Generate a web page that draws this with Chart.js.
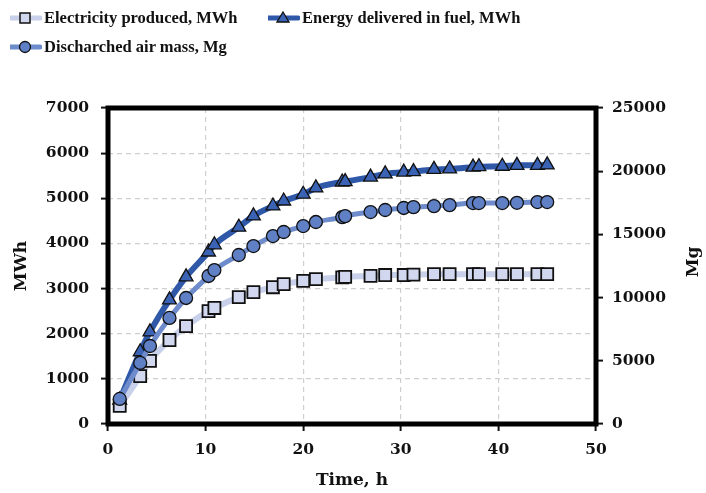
<!DOCTYPE html>
<html>
<head>
<meta charset="utf-8">
<script src="https://cdn.jsdelivr.net/npm/chart.js@4.4.1/dist/chart.umd.min.js"></script>
<style>
  body { margin: 0; background: #fff; }
  #wrap { position: relative; width: 706px; height: 493px; }
  #chart { position: absolute; left: 0; top: 0; }
  .leg { position: absolute; display: flex; align-items: center; height: 24px;
         font: bold 16.5px "Liberation Serif", serif; color: #111; white-space: nowrap; }
  .leg svg { margin-right: 2px; }
</style>
</head>
<body>
<div id="wrap">
  <canvas id="chart" width="706" height="493"></canvas>
  <div class="leg" style="left:10px; top:6px;">
    <svg width="32" height="24"><line x1="0" y1="12" x2="30" y2="12" stroke="#c8d0ea" stroke-width="5" stroke-linecap="round"/><rect x="10" y="7" width="10" height="10" fill="#d0d7ee" stroke="#111" stroke-width="1.5"/></svg>Electricity produced, MWh
  </div>
  <div class="leg" style="left:268px; top:6px;">
    <svg width="32" height="24"><line x1="0" y1="12" x2="30" y2="12" stroke="#2f58a8" stroke-width="5" stroke-linecap="round"/><polygon points="15,6 21,16 9,16" fill="#3b63b5" stroke="#111" stroke-width="1.3"/></svg>Energy delivered in fuel, MWh
  </div>
  <div class="leg" style="left:10px; top:35px;">
    <svg width="32" height="24"><line x1="0" y1="12" x2="30" y2="12" stroke="#6e8bcc" stroke-width="5" stroke-linecap="round"/><circle cx="15" cy="12" r="5.5" fill="#6080c6" stroke="#111" stroke-width="1.3"/></svg>Discharched air mass, Mg
  </div>
</div>
<script>
// time axis, h
const timeH = [1.2, 3.3, 4.3, 6.3, 8.0, 10.3, 10.9, 13.4, 14.9, 16.9, 18.0, 20.0, 21.3, 24.0, 24.3,
               26.9, 28.4, 30.3, 31.3, 33.4, 35.0, 37.4, 38.0, 40.4, 41.9, 44.0, 45.0];

// MWh
const electricity = [400, 1060, 1400, 1860, 2170, 2500, 2570, 2810, 2920, 3030, 3100, 3170, 3210, 3250, 3260,
                     3280, 3300, 3300, 3310, 3320, 3320, 3320, 3320, 3320, 3320, 3320, 3320];
const energyFuel = [530, 1600, 2040, 2750, 3260, 3810, 3970, 4360, 4610, 4830, 4940, 5090, 5230, 5360, 5370,
                    5470, 5540, 5580, 5590, 5640, 5650, 5690, 5700, 5710, 5730, 5730, 5740];

// Mg
const airMass = [1980, 4830, 6170, 8390, 9970, 11710, 12180, 13370, 14080, 14870, 15190, 15660, 15980, 16370, 16450,
                 16770, 16930, 17090, 17160, 17240, 17320, 17480, 17480, 17480, 17500, 17560, 17560];

const xMax = 50, xStep = 10;
const mwhMax = 7000, mwhStep = 1000;
const mgMax = 25000, mgStep = 5000;

const pts = arr => arr.map((v, i) => ({ x: timeH[i], y: v }));
const plain = v => String(v);

const tickFont = { family: 'DejaVu Serif', weight: 'bold', size: 15.5 };
const titleFont = { family: 'DejaVu Serif', weight: 'bold', size: 17 };
const gridCommon = { color: '#cfcfcf', lineWidth: 1.2, tickColor: '#111', tickWidth: 2, tickLength: 7, tickBorderDash: [] };

const framePlugin = {
    id: 'frame',
    afterDraw(chart) {
        const { ctx, chartArea: a } = chart;
        ctx.save();
        ctx.strokeStyle = '#000';
        ctx.lineWidth = 5;
        ctx.strokeRect(a.left, a.top, a.right - a.left, a.bottom - a.top);
        // right axis title, reads bottom to top like the left one
        ctx.translate(694, 262);
        ctx.rotate(-Math.PI / 2);
        ctx.font = 'bold 17px "DejaVu Serif"';
        ctx.fillStyle = '#111';
        ctx.textAlign = 'center';
        ctx.textBaseline = 'middle';
        ctx.fillText('Mg', 0, 0);
        ctx.restore();
    }
};

new Chart(document.getElementById('chart'), {
    type: 'line',
    data: {
        datasets: [
            {
                label: 'Electricity produced, MWh',
                data: pts(electricity),
                yAxisID: 'y',
                order: 1,
                borderColor: '#c8d0ea',
                borderWidth: 6,
                pointStyle: 'rect',
                pointRadius: 8.5,
                pointBackgroundColor: '#d0d7ee',
                pointBorderColor: '#111',
                pointBorderWidth: 1.8,
                cubicInterpolationMode: 'monotone'
            },
            {
                label: 'Discharched air mass, Mg',
                data: pts(airMass),
                yAxisID: 'y1',
                order: 0,
                borderColor: '#6e8bcc',
                borderWidth: 5,
                pointStyle: 'circle',
                pointRadius: 6.5,
                pointBackgroundColor: '#6080c6',
                pointBorderColor: '#111',
                pointBorderWidth: 1.3,
                cubicInterpolationMode: 'monotone'
            },
            {
                label: 'Energy delivered in fuel, MWh',
                data: pts(energyFuel),
                yAxisID: 'y',
                order: 2,
                borderColor: '#2f58a8',
                borderWidth: 6,
                pointStyle: 'triangle',
                pointRadius: 8,
                pointBackgroundColor: '#3b63b5',
                pointBorderColor: '#111',
                pointBorderWidth: 1.3,
                cubicInterpolationMode: 'monotone'
            }
        ]
    },
    options: {
        responsive: false,
        animation: false,
        layout: { padding: { top: 108, left: 0, right: 0, bottom: 0 } },
        plugins: { legend: { display: false }, tooltip: { enabled: false } },
        scales: {
            x: {
                type: 'linear', min: 0, max: xMax,
                afterFit: s => { s.height = 69; },
                ticks: { stepSize: xStep, font: tickFont, color: '#111', padding: 10, maxRotation: 0, callback: plain },
                grid: gridCommon,
                border: { display: false, dash: [5, 4] },
                title: { display: true, text: 'Time, h', font: titleFont, color: '#111', padding: { top: 0, bottom: 2 } }
            },
            y: {
                position: 'left', min: 0, max: mwhMax,
                afterFit: s => { s.width = 108; },
                ticks: { stepSize: mwhStep, font: tickFont, color: '#111', padding: 12, callback: plain },
                grid: gridCommon,
                border: { display: false, dash: [5, 4] },
                title: { display: true, text: 'MWh', font: titleFont, color: '#111', padding: { top: 11, bottom: 0 } }
            },
            y1: {
                position: 'right', min: 0, max: mgMax,
                afterFit: s => { s.width = 110; },
                ticks: { stepSize: mgStep, font: tickFont, color: '#111', padding: 9, callback: plain },
                grid: Object.assign({}, gridCommon, { drawOnChartArea: false }),
                border: { display: false }
            }
        }
    },
    plugins: [framePlugin]
});
</script>
</body>
</html>
